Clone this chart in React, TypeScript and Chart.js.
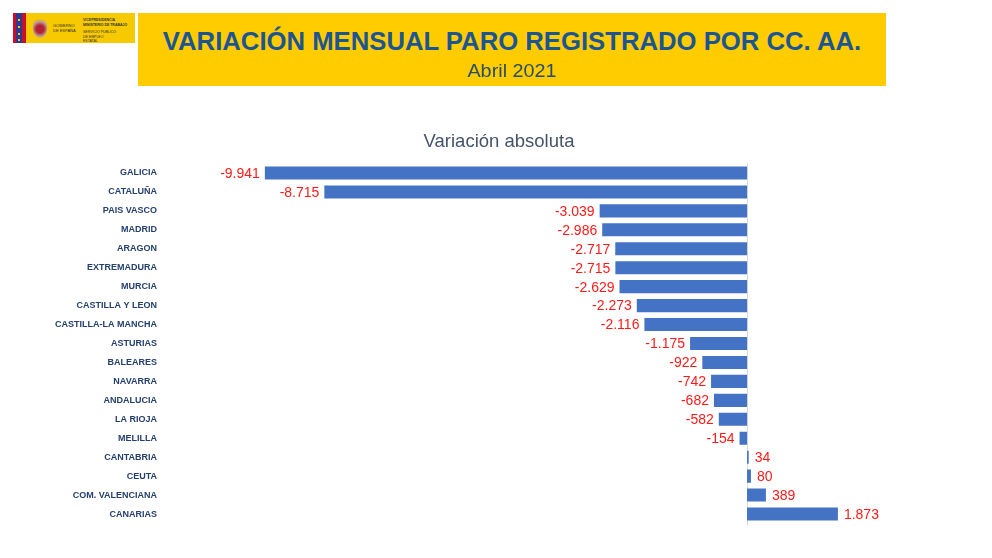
import React, { useEffect, useRef } from "react";
import { Chart, registerables } from "chart.js";

Chart.register(...registerables);

// Comunidades autónomas, ordered from largest drop to largest rise
const categories = [
  "GALICIA",
  "CATALUÑA",
  "PAIS VASCO",
  "MADRID",
  "ARAGON",
  "EXTREMADURA",
  "MURCIA",
  "CASTILLA Y LEON",
  "CASTILLA-LA MANCHA",
  "ASTURIAS",
  "BALEARES",
  "NAVARRA",
  "ANDALUCIA",
  "LA RIOJA",
  "MELILLA",
  "CANTABRIA",
  "CEUTA",
  "COM. VALENCIANA",
  "CANARIAS",
];

// Monthly change in registered unemployment (persons)
const variacion = [
  -9941, -8715, -3039, -2986, -2717, -2715, -2629, -2273, -2116, -1175, -922,
  -742, -682, -582, -154, 34, 80, 389, 1873,
];

const axisMin = -12000;
const axisMax = 5050;

const headerTitle = "VARIACIÓN MENSUAL PARO REGISTRADO POR CC. AA.";
const headerSubtitle = "Abril 2021";
const chartTitle = "Variación absoluta";

// Spanish number format: dot as thousands separator
function fmt(v: number): string {
  const s = Math.abs(v).toString().replace(/\B(?=(\d{3})+(?!\d))/g, ".");
  return (v < 0 ? "-" : "") + s;
}

const valueLabels = {
  id: "valueLabels",
  afterDatasetsDraw(chart: any) {
    const ctx = chart.ctx;
    const meta = chart.getDatasetMeta(0);
    ctx.save();
    ctx.font = "14px 'Liberation Sans', Arial, sans-serif";
    ctx.fillStyle = "#FF1A1A";
    ctx.textBaseline = "middle";
    meta.data.forEach((bar: any, i: number) => {
      const v = chart.data.datasets[0].data[i] as number;
      if (v < 0) {
        ctx.textAlign = "right";
        ctx.fillText(fmt(v), bar.x - 5, bar.y + 1);
      } else {
        ctx.textAlign = "left";
        ctx.fillText(fmt(v), bar.x + 6, bar.y + 1);
      }
    });
    ctx.restore();
  },
};

const zeroLine = {
  id: "zeroLine",
  beforeDatasetsDraw(chart: any) {
    const { ctx, chartArea, scales } = chart;
    const x = Math.round(scales.x.getPixelForValue(0)) + 0.5;
    ctx.save();
    ctx.strokeStyle = "#D9D9D9";
    ctx.lineWidth = 1;
    ctx.beginPath();
    ctx.moveTo(x, chartArea.top);
    ctx.lineTo(x, chartArea.bottom + 2);
    ctx.stroke();
    ctx.restore();
  },
};

function Logo() {
  return (
    <div
      style={{
        position: "absolute",
        left: 13,
        top: 13,
        width: 122,
        height: 30,
        background: "#F7C900",
        overflow: "hidden",
      }}
    >
      <div style={{ position: "absolute", left: 0, top: 0, width: 3, height: 30, background: "#C8102E" }} />
      <div style={{ position: "absolute", left: 3, top: 0, width: 6, height: 30, background: "#2B3990" }} />
      {[6, 13, 20, 26].map((t) => (
        <div
          key={t}
          style={{
            position: "absolute",
            left: 5,
            top: t,
            width: 2,
            height: 2,
            background: "#F7C900",
          }}
        />
      ))}
      <div style={{ position: "absolute", left: 9, top: 0, width: 4, height: 30, background: "#C8102E" }} />
      <div
        style={{
          position: "absolute",
          left: 20,
          top: 5,
          width: 14,
          height: 20,
          borderRadius: "40% 40% 50% 50%",
          background: "radial-gradient(circle at 50% 55%, #B22234 30%, #B89A9A 55%, #F7C900 80%)",
        }}
      />
      <div
        style={{
          position: "absolute",
          left: 40,
          top: 10,
          fontFamily: "'Liberation Sans', Arial, sans-serif",
          fontSize: 4,
          lineHeight: "5px",
          color: "#333",
          whiteSpace: "nowrap",
        }}
      >
        GOBIERNO
        <br />
        DE ESPAÑA
      </div>
      <div
        style={{
          position: "absolute",
          left: 70,
          top: 5,
          fontFamily: "'Liberation Sans', Arial, sans-serif",
          fontSize: 3.5,
          lineHeight: "4.5px",
          color: "#333",
          whiteSpace: "nowrap",
        }}
      >
        <b>VICEPRESIDENCIA</b>
        <br />
        <b>MINISTERIO DE TRABAJO</b>
        <div style={{ height: 3 }} />
        SERVICIO PÚBLICO
        <br />
        DE EMPLEO
        <br />
        ESTATAL
      </div>
    </div>
  );
}

export default function App() {
  const canvasRef = useRef<HTMLCanvasElement | null>(null);

  useEffect(() => {
    if (!canvasRef.current) return;
    const chart = new Chart(canvasRef.current, {
      type: "bar",
      data: {
        labels: categories,
        datasets: [
          {
            data: variacion,
            backgroundColor: "#4472C4",
            borderWidth: 0,
            barPercentage: 0.69,
            categoryPercentage: 1,
          },
        ],
      },
      options: {
        indexAxis: "y",
        responsive: false,
        animation: false,
        devicePixelRatio: 1,
        layout: { padding: { left: 6, right: 0, top: 0, bottom: 34.5 } },
        plugins: {
          legend: { display: false },
          tooltip: { enabled: false },
          title: {
            display: true,
            text: chartTitle,
            color: "#44546A",
            font: { family: "'Liberation Sans', Arial, sans-serif", size: 18.5, weight: "normal" },
            padding: { top: 130.9, bottom: 10.4 },
          },
        },
        scales: {
          x: {
            min: axisMin,
            max: axisMax,
            display: false,
          },
          y: {
            grid: { display: false, drawTicks: false },
            border: { display: false },
            afterFit(scale: any) {
              scale.width = 159;
            },
            ticks: {
              padding: 8,
              color: "#25406E",
              font: { family: "'Liberation Sans', Arial, sans-serif", size: 9, weight: "bold" },
            },
          },
        },
      },
      plugins: [zeroLine, valueLabels],
    });
    return () => chart.destroy();
  }, []);

  return (
    <div style={{ position: "absolute", left: 0, top: 0, width: 992, height: 558, background: "#fff" }}>
      <canvas
        ref={canvasRef}
        width={992}
        height={558}
        style={{ position: "absolute", left: 0, top: 0, width: 992, height: 558 }}
      />
      <Logo />
      <div
        style={{
          position: "absolute",
          left: 138,
          top: 13,
          width: 748,
          height: 73,
          background: "#FFCC00",
          fontFamily: "'Liberation Sans', Arial, sans-serif",
          textAlign: "center",
        }}
      >
        <div
          style={{
            position: "absolute",
            left: 0,
            right: 0,
            top: 13,
            fontSize: 25.7,
            lineHeight: "30px",
            fontWeight: "bold",
            color: "#1D5592",
            whiteSpace: "nowrap",
          }}
        >
          {headerTitle}
        </div>
        <div
          style={{
            position: "absolute",
            left: 0,
            right: 0,
            top: 48,
            fontSize: 18,
            lineHeight: "20px",
            color: "#2A4D69",
            transform: "scaleX(1.1)",
          }}
        >
          {headerSubtitle}
        </div>
      </div>
    </div>
  );
}
